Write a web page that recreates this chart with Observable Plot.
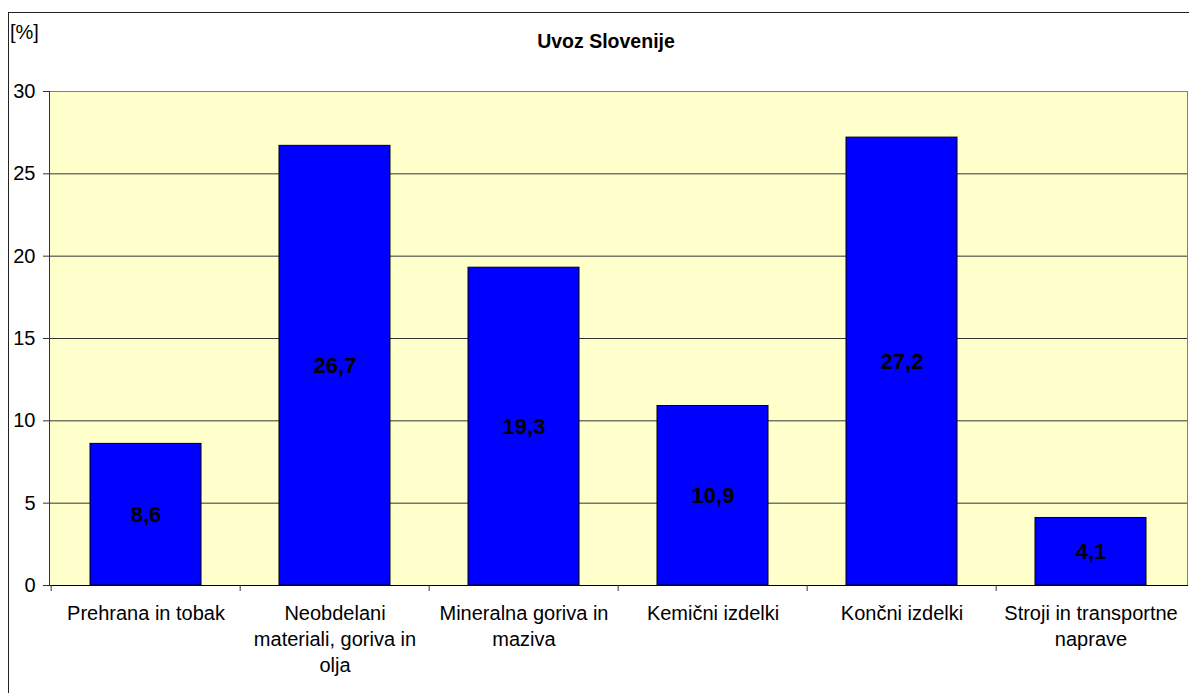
<!DOCTYPE html>
<html><head><meta charset="utf-8">
<script src="https://cdn.jsdelivr.net/npm/d3@7"></script>
<script src="https://cdn.jsdelivr.net/npm/@observablehq/plot@0.6"></script>
<style>
body{margin:0;background:#fff;font-family:"Liberation Sans",Arial,sans-serif;}
#wrap{position:relative;width:1189px;height:693px;overflow:hidden;}
#border{position:absolute;left:8px;top:12px;width:1300px;height:800px;border-left:1px solid #222;border-top:1px solid #222;}
#title{position:absolute;left:0;width:1212px;top:29px;text-align:center;font-weight:bold;font-size:19.5px;line-height:24px;}
#unit{position:absolute;left:10px;top:20px;font-size:20px;line-height:24px;}
#chart{position:absolute;left:0;top:0;}
</style></head>
<body><div id="wrap"><div id="border"></div><div id="chart"></div><div id="title">Uvoz Slovenije</div><div id="unit">[%]</div></div>
<script>
const categories = ["Prehrana in tobak","Neobdelani\nmateriali, goriva in\nolja","Mineralna goriva in\nmaziva","Kemični izdelki","Končni izdelki","Stroji in transportne\nnaprave"];
const values = [8.6, 26.7, 19.3, 10.9, 27.2, 4.1];
const yTicks = [0,5,10,15,20,25,30];
const data = categories.map((c,i)=>({c, v: values[i]}));

const W = 1189, H = 693, ml = 49, mr = 2, mt = 91, mb = 108;
const step = (W - ml - mr) / categories.length;
const fmt = v => String(v).replace(".", ",");

const chart = Plot.plot({
  width: W, height: H,
  marginLeft: ml, marginRight: mr, marginTop: mt, marginBottom: mb,
  style: {fontFamily: '"Liberation Sans", Arial, sans-serif', background: "transparent", color: "#000"},
  x: {domain: categories, paddingInner: 0.415, paddingOuter: 0.2075, label: null},
  y: {domain: [0, 30], label: null},
  marks: [
    Plot.frame({fill: "#ffffcc", stroke: "#808080"}),
    Plot.gridY(yTicks.filter(t => t > 0 && t < 30), {stroke: "#333", strokeOpacity: 1}),
    Plot.barY(data, {x: "c", y: "v", fill: "#0000ff", stroke: "#000", strokeWidth: 1}),
    Plot.text(data, {x: "c", y: d => d.v / 2, text: d => fmt(d.v), fontSize: 22, fontWeight: "bold", fill: "#000", letterSpacing: "-0.3px"}),
    Plot.frame({anchor: "bottom", stroke: "#000"}),
    Plot.frame({anchor: "left", stroke: "#333"}),
    Plot.axisY(yTicks, {tickSize: 6, tickPadding: 8, fontSize: 20, stroke: "#333"}),
    Plot.axisX({tickSize: 6, tickFormat: () => "", dx: -step / 2, stroke: "#333"}),
    Plot.axisX({tickSize: 0, tickPadding: 16, fontSize: 20, lineHeight: 1.3, textAnchor: "middle", letterSpacing: "-0.2px"})
  ]
});
document.getElementById("chart").appendChild(chart);
</script></body></html>
